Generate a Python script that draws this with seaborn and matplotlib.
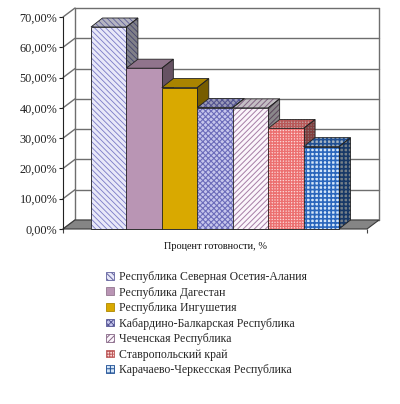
import matplotlib
matplotlib.use("Agg")
import matplotlib.pyplot as plt
import matplotlib.colors as mcolors
from matplotlib.patches import Polygon, Rectangle, Patch
import seaborn as sns
import pandas as pd
import numpy as np

# ---------------- data ----------------
regions = [
    "Республика Северная Осетия-Алания",
    "Республика Дагестан",
    "Республика Ингушетия",
    "Кабардино-Балкарская Республика",
    "Чеченская Республика",
    "Ставропольский край",
    "Карачаево-Черкесская Республика",
]
values = [0.667, 0.531, 0.467, 0.401, 0.400, 0.332, 0.272]
category_label = "Процент готовности, %"
y_ticks = [0.0, 0.1, 0.2, 0.3, 0.4, 0.5, 0.6, 0.7]
y_tick_labels = ["0,00%", "10,00%", "20,00%", "30,00%", "40,00%", "50,00%", "60,00%", "70,00%"]

# ---------------- style ----------------
face_colors = ["#e8e8f8", "#b995b4", "#d9a900", "#c6c6ec", "#fbf5fb", "#fbd8d8", "#d4e6f8"]
hatch_colors = ["#7a7ac6", "#b995b4", "#d9a900", "#6c6cba", "#a67ea6", "#ec7070", "#2a66bc"]
hatches = ["\\\\\\\\\\\\", None, None, "xxxxxx", "//////", "++++++", "++++"]
hatch_lws = [0.6, 0.7, 0.7, 0.8, 0.7, 1.0, 1.2]

sns.set_style("white")
plt.rcParams["font.family"] = ["Liberation Serif", "DejaVu Serif"]
plt.rcParams["hatch.linewidth"] = 0.7

W, H = 400, 404
fig = plt.figure(figsize=(W / 100, H / 100), dpi=100)
ax_l, ax_r, ax_t, ax_b = 63, 367, 17, 229
ax = fig.add_axes([ax_l / W, 1 - ax_b / H, (ax_r - ax_l) / W, (ax_b - ax_t) / H])

df = pd.DataFrame({"region": regions, "value": values})
sns.barplot(data=df, x="region", y="value", hue="region", order=regions,
            hue_order=regions, palette=dict(zip(regions, face_colors)),
            width=1.0, saturation=1, legend=False, linewidth=0, ax=ax)

bars = [b for b in ax.patches if isinstance(b, Rectangle) and b.get_height() > 0]
bars = sorted(bars, key=lambda p: p.get_x())[:len(values)]

x0, x1 = -1.29, 7.29
ax.set_xlim(x0, x1)
ax.set_ylim(0, 0.7)

# depth of the pseudo-3D projection (pixels -> data units)
dx = 12 * (x1 - x0) / (ax_r - ax_l)
dy = 9 * 0.7 / (ax_b - ax_t)
bdx = 11.5 * (x1 - x0) / (ax_r - ax_l)

def shade(c, f):
    r, g, b = mcolors.to_rgb(c)
    return (r * f, g * f, b * f)

def set_hlw(patch, lw):
    if hasattr(patch, "set_hatch_linewidth"):
        patch.set_hatch_linewidth(lw)
    elif hasattr(patch, "_hatch_linewidth"):
        patch._hatch_linewidth = lw

grid_c = "#6e6e6e"
# walls
for t in y_ticks:
    ax.plot([x0, x0 + dx], [t, t + dy], color=grid_c, lw=1.0, clip_on=False, zorder=0.6)
    ax.plot([x0 + dx, x1 + dx], [t + dy, t + dy], color=grid_c, lw=1.0, clip_on=False, zorder=0.6)
for xx in (x0 + dx, x1 + dx):
    ax.plot([xx, xx], [dy, 0.7 + dy], color=grid_c, lw=1.0, clip_on=False, zorder=0.6)
# floor
ax.add_patch(Polygon([(x0, 0), (x1, 0), (x1 + dx, dy), (x0 + dx, dy)], closed=True,
                     facecolor="#858585", edgecolor="#3a3a3a", lw=0.8, clip_on=False, zorder=1))

for i, p in enumerate(bars):
    x, w, h = p.get_x(), p.get_width(), p.get_height()
    z = 3 + i
    hc = hatch_colors[i]
    fc = face_colors[i]
    htc = hatches[i]
    # side face
    side = Polygon([(x + w, 0), (x + w + bdx, dy), (x + w + bdx, h + dy), (x + w, h)], closed=True,
                   facecolor=shade(fc, 0.55), edgecolor=shade(hc, 0.55), hatch=htc, lw=0,
                   clip_on=False, zorder=z)
    ax.add_patch(side)
    top = Polygon([(x, h), (x + w, h), (x + w + bdx, h + dy), (x + bdx, h + dy)], closed=True,
                  facecolor=shade(fc, 0.78), edgecolor=shade(hc, 0.78), hatch=htc, lw=0,
                  clip_on=False, zorder=z)
    ax.add_patch(top)
    set_hlw(side, hatch_lws[i])
    set_hlw(top, hatch_lws[i])
    for poly in (side, top):
        ax.add_patch(Polygon(poly.get_xy(), closed=True, fill=False, edgecolor="#222222",
                             lw=0.6, clip_on=False, zorder=z + 0.1))
    # front face
    p.set_facecolor(fc)
    p.set_edgecolor(hc)
    p.set_hatch(htc)
    p.set_linewidth(0)
    set_hlw(p, hatch_lws[i])
    p.set_zorder(z + 0.5)
    ax.add_patch(Rectangle((x, 0), w, h, fill=False, edgecolor="#222222", lw=0.6,
                           clip_on=False, zorder=z + 0.6))

for s in ("top", "right", "bottom"):
    ax.spines[s].set_visible(False)
ax.spines["left"].set_color("#222222")
ax.spines["left"].set_linewidth(0.8)
ax.spines["left"].set_zorder(2)
ax.patch.set_alpha(0)

ax.set_yticks(y_ticks, y_tick_labels)
ax.tick_params(axis="y", direction="out", length=3, width=0.8, pad=1,
               labelsize=8.8, colors="#222222", left=True)
ax.set_xticks([x0, x1], ["", ""])
ax.tick_params(axis="x", direction="out", length=3, width=0.8, colors="#444444", bottom=True)
ax.set_xlabel(category_label, fontsize=7.4, labelpad=3, color="#111111")
ax.set_ylabel("")

handles = []
for i in range(len(regions)):
    hp = Patch(facecolor=face_colors[i], edgecolor=shade(hatch_colors[i], 0.8),
               hatch=hatches[i], lw=0.6)
    handles.append(hp)
leg = fig.legend(handles, regions, loc="upper left", bbox_to_anchor=(106 / W, 1 - 271 / H),
                 frameon=False, prop={"family": ["Liberation Serif", "DejaVu Serif"], "size": 8.45},
                 handlelength=0.65, handleheight=0.65, handletextpad=0.5, labelspacing=0.3,
                 borderpad=0, borderaxespad=0)

fig.savefig("out.png", dpi=100)
